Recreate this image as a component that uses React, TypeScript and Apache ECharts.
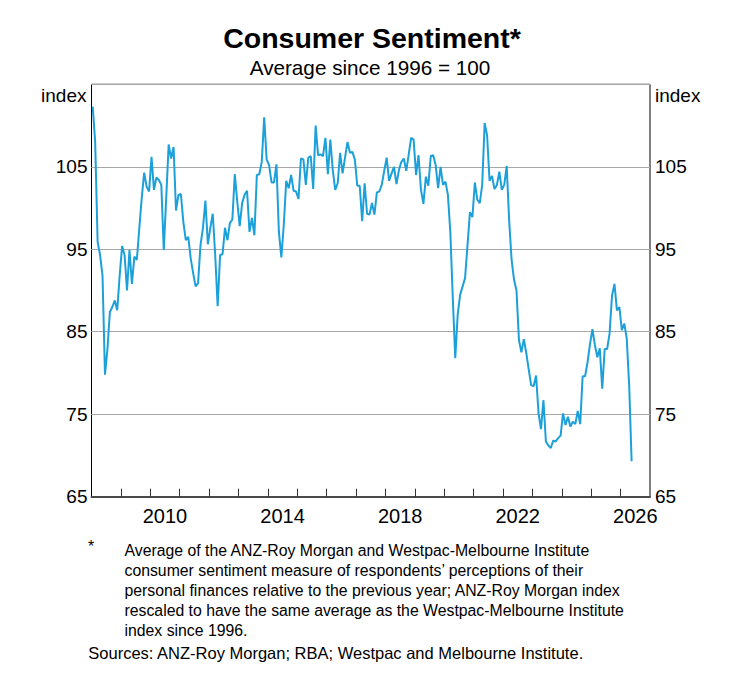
import React, { useEffect, useRef } from "react";
import * as echarts from "echarts";

// Monthly consumer sentiment index, starting January 2008
const startYear = 2008;
const sentiment = [
  112.3, 108.0, 95.9, 94.3, 91.8, 79.8, 82.9, 87.4, 88.0, 88.8, 87.6, 91.8,
  95.4, 94.3, 90.0, 94.9, 90.8, 94.1, 93.7, 97.5, 101.2, 104.3, 102.6, 102.0,
  106.2, 102.2, 103.7, 103.4, 102.8, 94.9, 101.2, 107.7, 106.0, 107.4, 99.7, 101.6,
  101.7, 98.3, 96.1, 96.5, 93.9, 92.1, 90.5, 90.9, 95.5, 97.6, 100.9, 95.6,
  97.6, 99.3, 94.3, 88.1, 94.3, 94.4, 97.6, 96.1, 98.2, 98.6, 104.1, 100.8,
  97.8, 100.6, 101.6, 102.1, 97.1, 98.8, 96.7, 104.0, 104.1, 105.6, 111.0, 105.9,
  105.2, 103.1, 103.1, 105.3, 97.1, 94.0, 98.0, 103.3, 102.4, 104.0, 102.1, 102.0,
  101.1, 106.0, 105.9, 102.8, 106.1, 106.3, 102.3, 110.0, 106.4, 106.5, 106.3, 108.5,
  104.1, 108.3, 104.6, 102.2, 103.0, 106.7, 104.2, 106.1, 108.0, 106.7, 106.8, 105.9,
  102.7, 102.7, 98.4, 103.0, 99.3, 99.2, 100.6, 99.2, 101.9, 102.0, 102.8, 104.5,
  106.1, 103.3, 104.2, 105.0, 102.9, 104.6, 105.6, 106.0, 104.5, 106.5, 108.5, 108.3,
  104.0, 106.4, 102.2, 100.5, 103.8, 102.7, 106.3, 106.4, 105.2, 102.4, 105.0, 102.8,
  103.2, 101.6, 97.0, 89.0, 81.8, 87.1, 89.5, 90.5, 91.5, 95.5, 99.5, 98.9,
  103.1, 101.0, 100.6, 102.8, 110.3, 108.8, 103.3, 103.9, 102.3, 102.8, 104.4, 102.2,
  102.8, 105.1, 98.5, 93.7, 91.3, 90.0, 84.0, 82.5, 84.1, 82.4, 80.4, 78.5,
  78.4, 79.7, 75.1, 73.2, 76.7, 71.7, 71.2, 70.9, 71.8, 71.7, 72.1, 72.4,
  75.1, 73.7, 74.7, 73.5, 74.1, 73.8, 75.4, 73.8, 79.6, 79.6, 81.3, 83.5,
  85.3, 83.4, 81.9, 83.0, 78.1, 82.9, 82.9, 84.8, 89.4, 90.8, 87.6, 88.0,
  85.2, 86.0, 84.2, 78.5, 69.3,
];

const xLabelYears = [2010, 2014, 2018, 2022, 2026];
const xTickYears = [
  2009, 2010, 2011, 2012, 2013, 2014, 2015, 2016, 2017, 2018, 2019, 2020, 2021,
  2022, 2023, 2024, 2025, 2026,
];

const titleText = "Consumer Sentiment*";
const subtitleText = "Average since 1996 = 100";
const footnoteLines = [
  "Average of the ANZ-Roy Morgan and Westpac-Melbourne Institute",
  "consumer sentiment measure of respondents\u2019 perceptions of their",
  "personal finances relative to the previous year; ANZ-Roy Morgan index",
  "rescaled to have the same average as the Westpac-Melbourne Institute",
  "index since 1996.",
];
const sourcesText = "Sources: ANZ-Roy Morgan; RBA; Westpac and Melbourne Institute.";

const FONT = "'Liberation Sans', Arial, Helvetica, sans-serif";

export default function App() {
  const ref = useRef<HTMLDivElement>(null);

  useEffect(() => {
    if (!ref.current) return;
    const chart = echarts.init(ref.current, undefined, { renderer: "svg" });
    const data = sentiment.map((v, i) => [startYear + (i + 0.5) / 12, v]);

    const yAxisBase = {
      type: "value",
      min: 65,
      max: 115,
      interval: 10,
      name: "index",
      nameLocation: "end",
      nameGap: -10.7,
      axisLine: { show: false },
      axisTick: { show: false },
      splitLine: { show: true, lineStyle: { color: "#a8a8a8", width: 1 } },
    };

    chart.setOption({
      animation: false,
      backgroundColor: "#ffffff",
      textStyle: { fontFamily: FONT },
      grid: {
        left: 91.5,
        right: 101,
        top: 84.3,
        bottom: 188.3,
        show: true,
        borderColor: "#000000",
        borderWidth: 1,
        backgroundColor: "transparent",
        containLabel: false,
      },
      xAxis: {
        type: "value",
        min: 2008,
        max: 2027,
        axisLine: { show: true, onZero: false, lineStyle: { color: "#4a4a4a", width: 2 } },
        axisTick: {
          show: true,
          inside: true,
          length: 8,
          customValues: xTickYears,
          lineStyle: { color: "#333333", width: 1 },
        },
        axisLabel: {
          show: true,
          margin: 9,
          fontSize: 20,
          color: "#000000",
          fontFamily: FONT,
          customValues: xLabelYears.map((y) => y + 0.5),
          formatter: (v: number) => String(Math.floor(v)),
        },
        splitLine: { show: false },
      },
      yAxis: [
        {
          ...yAxisBase,
          position: "left",
          nameTextStyle: {
            fontSize: 19,
            color: "#000",
            fontFamily: FONT,
            align: "right",
            verticalAlign: "middle",
            padding: [0, 5, 0, 0],
          },
          axisLabel: {
            show: true,
            showMaxLabel: false,
            margin: 4,
            fontSize: 19,
            color: "#000",
            fontFamily: FONT,
          },
        },
        {
          ...yAxisBase,
          position: "right",
          nameTextStyle: {
            fontSize: 19,
            color: "#000",
            fontFamily: FONT,
            align: "left",
            verticalAlign: "middle",
            padding: [0, 0, 0, 5],
          },
          axisLabel: {
            show: true,
            showMaxLabel: false,
            margin: 5,
            fontSize: 19,
            color: "#000",
            fontFamily: FONT,
          },
        },
      ],
      series: [
        {
          type: "line",
          data,
          xAxisIndex: 0,
          yAxisIndex: 0,
          showSymbol: false,
          symbol: "none",
          lineStyle: { color: "#1ca0da", width: 2 },
          z: 3,
        },
      ],
      graphic: [
        {
          type: "text",
          x: 372,
          y: 38,
          style: {
            text: titleText,
            font: `bold 28.5px ${FONT}`,
            fill: "#000",
            align: "center",
            verticalAlign: "middle",
          },
        },
        {
          type: "text",
          x: 370,
          y: 67.5,
          style: {
            text: subtitleText,
            font: `20.7px ${FONT}`,
            fill: "#000",
            align: "center",
            verticalAlign: "middle",
          },
        },
        {
          type: "text",
          x: 88,
          y: 538,
          style: {
            text: "*",
            font: `15.8px ${FONT}`,
            fill: "#000",
            align: "left",
            verticalAlign: "top",
          },
        },
        {
          type: "text",
          x: 124.5,
          y: 541,
          style: {
            text: footnoteLines.join("\n"),
            font: `15.8px ${FONT}`,
            lineHeight: 19.8,
            fill: "#000",
            align: "left",
            verticalAlign: "top",
          },
        },
        {
          type: "text",
          x: 88.3,
          y: 644,
          style: {
            text: sourcesText,
            font: `16.5px ${FONT}`,
            fill: "#000",
            align: "left",
            verticalAlign: "top",
          },
        },
      ],
    });

    return () => {
      chart.dispose();
    };
  }, []);

  return (
    <div
      ref={ref}
      style={{ position: "absolute", left: 0, top: 0, width: 751, height: 685, background: "#fff" }}
    />
  );
}
